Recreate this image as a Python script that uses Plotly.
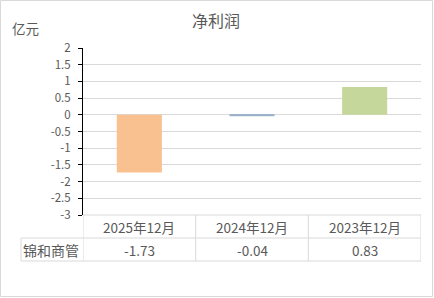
import plotly.graph_objects as go

categories = ["2025年12月", "2024年12月", "2023年12月"]
values = [-1.73, -0.04, 0.83]
value_labels = ["-1.73", "-0.04", "0.83"]
series_name = "锦和商管"
colors = ["#F9C18F", "#9DB3CB", "#C5D79B"]
title = "净利润"
unit = "亿元"
y_ticks = [2, 1.5, 1, 0.5, 0, -0.5, -1, -1.5, -2, -2.5, -3]

W, H = 434, 298
L, R, T, B = 83, 421, 48, 215
PW, PH = R - L, B - T

def px2x(px):
    return (px - L) / PW

def px2y(py):
    return (B - py) / PH

FONT = "Noto Sans CJK SC, Microsoft YaHei, sans-serif"
GRAY = "#595959"
LINE = "#D9D9D9"

fig = go.Figure()
fig.add_trace(go.Bar(
    x=list(range(len(categories))), y=values,
    marker=dict(color=colors, line=dict(width=0)),
    width=0.4, showlegend=False, hoverinfo="skip",
))

shapes = []
row_top, row_mid, row_bot = px2y(215), px2y(238), px2y(261)
left_col = px2x(21)
for yy, x0 in [(row_top, 0), (row_mid, left_col), (row_bot, left_col)]:
    shapes.append(dict(type="line", xref="paper", yref="paper", x0=x0, x1=1,
                       y0=yy, y1=yy, line=dict(color=LINE, width=1)))
for i in range(len(categories) + 1):
    xv = i - 0.5
    shapes.append(dict(type="line", xref="x", yref="paper", x0=xv, x1=xv,
                       y0=row_top, y1=row_bot, line=dict(color=LINE, width=1)))
shapes.append(dict(type="line", xref="paper", yref="paper", x0=left_col, x1=left_col,
                   y0=row_mid, y1=row_bot, line=dict(color=LINE, width=1)))
shapes.append(dict(type="rect", xref="paper", yref="paper",
                   x0=px2x(0.5), x1=px2x(432.5), y0=px2y(0.5), y1=px2y(296.5),
                   line=dict(color=LINE, width=1)))

def ann(x, y, text, size, xref="paper"):
    return dict(x=x, y=y, xref=xref, yref="paper", text=text, showarrow=False,
                xanchor="center", yanchor="middle",
                font=dict(size=size, color=GRAY, family=FONT))

annotations = []
for i, (c, v) in enumerate(zip(categories, value_labels)):
    annotations.append(ann(i, px2y(227), c, 13.5, xref="x"))
    annotations.append(ann(i, px2y(250), v, 13.5, xref="x"))
annotations.append(ann(px2x(51), px2y(250), series_name, 14))
annotations.append(ann(px2x(216), px2y(20), title, 16))
annotations.append(ann(px2x(25), px2y(28), unit, 13.5))

fig.update_layout(
    width=W, height=H,
    margin=dict(l=L, r=W - R, t=T, b=H - B, pad=0),
    paper_bgcolor="white", plot_bgcolor="white",
    shapes=shapes, annotations=annotations,
    font=dict(family=FONT, color=GRAY),
    xaxis=dict(range=[-0.5, len(categories) - 0.5], showticklabels=False, showgrid=False,
               zeroline=False, showline=False, ticks=""),
    yaxis=dict(range=[-3, 2], tickvals=y_ticks, ticktext=[f"{t:g}" for t in y_ticks],
               showgrid=True, gridcolor=LINE, gridwidth=1, zeroline=False,
               showline=True, linecolor="black", linewidth=1,
               ticks="outside", ticklen=4, tickcolor="black",
               tickfont=dict(size=11.5, color=GRAY, family=FONT), ticklabelstandoff=5),
    bargap=0.6,
)

fig.write_html("out.html")
